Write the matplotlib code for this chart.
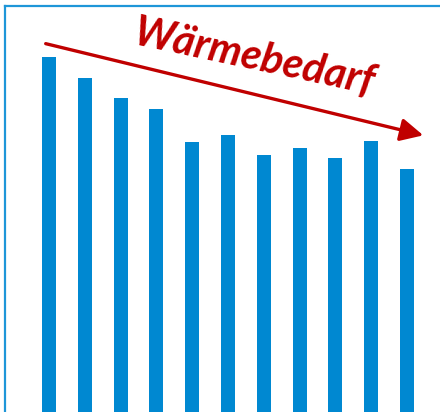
import matplotlib
matplotlib.use("Agg")
import matplotlib.pyplot as plt

# relative heat demand per year (bars run off the bottom of the image)
years = list(range(11))
demand = [355, 334, 314, 303, 270, 277, 257, 264, 254, 271, 243]
label = "Wärmebedarf"

W, H = 440, 412
fig = plt.figure(figsize=(W / 100, H / 100), dpi=100)
ax = fig.add_axes([5 / W, 0, 1 - 5 / W, 1 - 6 / H])

ax.bar(years, demand, width=0.39, color="#0088D1")
ax.set_xlim(-1.23, 10.92)
ax.set_ylim(0, 406)
ax.set_xticks([])
ax.set_yticks([])
for side in ("right", "bottom"):
    ax.spines[side].set_visible(False)
for side in ("left", "top"):
    ax.spines[side].set_color("#1E96D8")
    ax.spines[side].set_linewidth(1.6)

# trend arrow
fig.patches.append(matplotlib.patches.FancyArrowPatch(
    (43, H - 43), (426, H - 136), transform=None,
    arrowstyle="-|>,head_length=12,head_width=6", mutation_scale=1.15,
    color="#C00000", linewidth=2.4))

fig.text(254 / W, 1 - 58 / H, label, rotation=-12, ha="center", va="center",
         fontsize=30, fontweight="bold", fontstyle="italic",
         family="Lato", color="#C00000")

fig.savefig("out.png", dpi=100)
